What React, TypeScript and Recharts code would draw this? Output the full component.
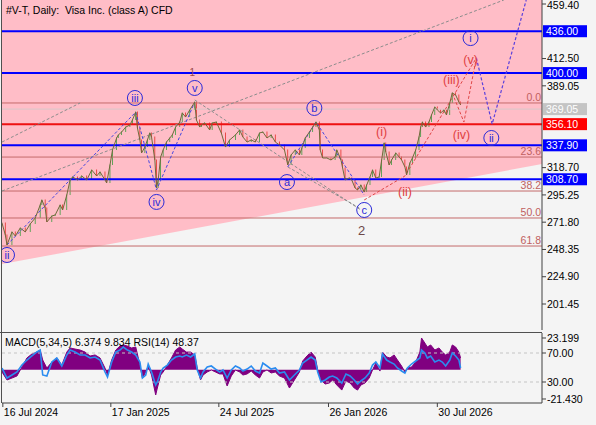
import React from 'react';
import { ComposedChart, Area, Line, Bar, Cell, Scatter, XAxis, YAxis, ReferenceLine } from 'recharts';

const FONT = '"Liberation Sans", Arial, sans-serif';

/* ─── Price samples (bar index, close) ─────────────────────────────────────── */
const priceBars = [0, 4, 6, 12, 16, 22, 28, 34, 40, 46, 48, 52, 54, 60, 64, 70, 73, 78, 82, 85, 91, 96, 102, 108, 114, 118, 124, 126, 130, 133, 138, 140, 144, 149, 154, 157, 161, 163, 166, 168, 172, 175, 178, 180, 184, 186, 188, 191, 194, 198, 202, 205, 209, 214, 217, 221, 226, 232, 234, 238, 240, 244, 250, 253, 258, 264, 269, 274, 281, 286, 290, 295, 300, 305, 310, 314, 319, 324, 329, 334, 340, 344, 348, 353, 358, 361, 365, 370, 374, 378, 382, 383, 386, 391, 396, 401, 403, 408, 410, 413, 418, 421, 425, 428, 432, 436, 439, 443, 446, 450, 454, 457, 460, 462, 466, 469, 474, 478, 481, 485, 487, 491, 494, 498, 502, 504, 506, 510, 514, 517, 521, 524, 528, 532, 535, 539, 542, 546, 550, 552];
const priceCloses = [271.1, 260.8, 252.2, 263.4, 259.9, 266.8, 263.4, 270.3, 275.4, 286.6, 290.9, 284.0, 272.0, 277.1, 278.0, 286.6, 282.3, 295.2, 308.1, 310.7, 308.1, 311.5, 308.1, 316.7, 311.5, 315.0, 308.1, 305.5, 321.0, 333.9, 344.2, 346.8, 349.3, 353.6, 355.4, 359.7, 366.5, 352.8, 342.5, 331.3, 336.4, 342.5, 348.5, 345.0, 325.3, 301.2, 308.1, 327.9, 333.9, 340.7, 344.2, 346.8, 353.6, 357.9, 365.7, 362.2, 368.3, 375.1, 359.7, 353.6, 355.4, 357.1, 351.1, 357.1, 357.9, 348.5, 336.4, 342.5, 346.8, 351.1, 345.0, 340.7, 342.5, 340.7, 348.5, 349.3, 344.2, 346.8, 340.7, 338.2, 333.9, 321.0, 329.6, 333.9, 329.6, 335.6, 344.2, 349.3, 353.6, 357.9, 351.1, 333.9, 327.0, 327.0, 325.3, 327.9, 333.9, 325.3, 318.4, 308.1, 309.8, 308.1, 301.2, 299.5, 303.8, 297.7, 303.8, 310.7, 316.7, 309.8, 310.7, 325.3, 339.9, 332.1, 321.0, 325.3, 331.3, 327.9, 325.3, 319.3, 312.4, 322.7, 327.0, 333.9, 345.0, 353.6, 357.9, 353.6, 357.9, 364.0, 370.8, 368.3, 365.7, 368.3, 364.0, 374.3, 382.9, 381.2, 375.1, 372.6];

/* ─── Levels ───────────────────────────────────────────────────────────────── */
// 435.95, 365.60 and 342.15 sit under the coloured level boxes
const priceTicks = [459.4, 412.5, 389.05, 318.7, 295.25, 271.8, 248.35, 224.9, 201.45];
const blueLevels = [436.0, 400.0, 337.9, 308.7];
const redLevel = 356.1;
const bidLevel = 369.05;
const fibLevels = [374.3, 327.8, 298.6, 275.4, 251.3];
const fibNames = ['0.0', '23.6', '38.2', '50.0', '61.8'];

/* ─── Trend zone + dashed guides ([bar, value]) ────────────────────────────── */
const zoneBars = [0, 650];
const zoneLower = [235.8, 321.8];
const zoneUpper = [462.84, 462.84];
const channelLong = [[0, 298.6], [604, 462.8]];
const channelShort = [[0, 340.7], [94, 374.3]];
const waveImpulse = [[6, 252.2], [161, 366.5], [186, 299.5], [232, 375.1]];
const waveGrayVc = [[232, 376.9], [432, 282.3]];
const waveGrayAc = [[344, 319.3], [430, 284.0]];
const waveAbc = [[344, 319.3], [378, 357.9], [436, 295.2]];
const waveRedMain = [[436, 290.9], [485, 311.5], [571, 413.0]];
const waveRedSub = [[542, 382.9], [556, 357.9], [571, 413.0]];
const waveForecast = [[571, 413.0], [590, 356.2], [631, 462.8]];

/* ─── Wave labels ──────────────────────────────────────────────────────────── */
const circleText = ['ii', 'iii', 'iv', 'v', 'a', 'b', 'c', 'i', 'ii'];
const circleBars = [6, 160, 186, 232, 343, 376, 436, 564, 589];
const circleVals = [243.6, 378.6, 289.2, 387.2, 306.3, 370.0, 282.3, 430.1, 344.2];
const redText = ['(i)', '(ii)', '(iii)', '(iv)', '(v)'];
const redBars = [457, 485, 541, 553, 564];
const redVals = [349.3, 297.7, 394.0, 346.8, 411.3];
const numText = ['1', '2'];
const numBars = [229, 433];
const numVals = [400.9, 264.2];

/* ─── MACD / RSI panel ─────────────────────────────────────────────────────── */
const macdBars = [0, 6, 12, 18, 24, 30, 36, 42, 46, 49, 54, 60, 66, 72, 78, 82, 88, 94, 100, 106, 112, 118, 124, 127, 132, 137, 142, 146, 151, 156, 161, 166, 169, 173, 176, 180, 185, 187, 191, 194, 199, 204, 209, 214, 217, 222, 227, 232, 235, 239, 242, 247, 252, 257, 262, 266, 271, 276, 281, 286, 290, 295, 300, 305, 310, 314, 319, 324, 329, 334, 340, 346, 352, 358, 362, 367, 372, 377, 380, 384, 389, 394, 398, 403, 409, 414, 419, 424, 428, 432, 437, 442, 446, 450, 455, 458, 463, 467, 472, 476, 481, 485, 488, 493, 498, 503, 505, 509, 512, 516, 521, 526, 530, 534, 539, 542, 546, 550, 552];
const histVals = [-1.7, -7.5, -6.1, -4.6, 2.0, 8.6, 11.5, 12.9, 14.4, 7.1, 1.2, 5.6, 8.6, 3.4, 12.9, 15.9, 15.1, 14.4, 12.9, 10.0, 10.8, 8.6, 1.2, -3.9, 7.1, 14.4, 17.3, 18.1, 17.3, 15.9, 16.6, 3.4, -6.1, -1.7, 2.7, -3.9, -18.5, -13.4, -3.9, -1.7, 3.4, 8.6, 14.4, 16.6, 15.1, 12.9, 12.9, 10.8, 1.2, -7.5, -3.9, -1.7, -0.2, -1.7, -3.1, -3.1, -11.9, -4.6, -0.2, -1.7, -3.9, -3.1, -1.0, -3.9, -6.1, -1.7, -0.2, -2.4, -1.7, -4.6, -6.1, -13.4, -7.5, -1.7, 6.4, 10.0, 12.9, 9.3, -0.2, -7.5, -10.5, -9.7, -7.5, -11.2, -14.9, -8.3, -9.7, -13.4, -14.9, -11.2, -9.7, -6.1, -0.2, 4.9, -1.0, 12.9, 9.3, 8.6, 10.8, 7.1, 2.7, -1.7, 1.2, 2.0, 5.6, 12.9, 23.2, 19.5, 16.6, 18.1, 14.4, 15.9, 12.9, 10.8, 12.9, 18.1, 16.6, 12.9, 8.6];
const rsiVals = [49.3, 35.5, 39.7, 43.8, 53.4, 60.3, 65.9, 71.4, 74.1, 39.7, 38.3, 57.6, 63.1, 52.1, 67.2, 74.1, 71.4, 67.2, 67.2, 63.1, 64.5, 60.3, 43.8, 36.9, 57.6, 71.4, 74.1, 78.3, 74.1, 71.4, 67.2, 57.6, 35.5, 39.7, 54.8, 43.8, 25.9, 30.0, 43.8, 49.3, 53.4, 60.3, 64.5, 65.9, 64.5, 67.2, 64.5, 68.6, 46.6, 35.5, 43.8, 50.7, 52.1, 47.9, 43.8, 46.6, 35.5, 46.6, 52.1, 49.3, 45.2, 47.9, 52.1, 45.2, 42.4, 56.2, 52.1, 47.9, 49.3, 42.4, 43.8, 32.8, 39.7, 46.6, 56.2, 60.3, 64.5, 60.3, 43.8, 30.0, 32.8, 36.9, 38.3, 35.5, 28.6, 41.0, 38.3, 32.8, 27.2, 31.4, 35.5, 42.4, 53.4, 57.6, 49.3, 68.6, 60.3, 57.6, 54.8, 49.3, 45.2, 42.4, 49.3, 54.8, 59.0, 63.1, 74.1, 70.0, 63.1, 65.9, 57.6, 60.3, 57.6, 52.1, 60.3, 70.0, 65.9, 60.3, 49.3];
const macdTicks = [23.199, -21.43];

const dateTicks = [1, 131, 261, 393, 524];
const dateLabels = ['16 Jul 2024', '17 Jan 2025', '24 Jul 2025', '26 Jan 2026', '30 Jul 2026'];

/* ─── Tables for the library ───────────────────────────────────────────────── */
const priceData = priceBars.map((x, i) => {
    const c = priceCloses[i];
    const o = i === 0 ? c : priceCloses[i - 1];
    return { x, c, body: [Math.min(o, c), Math.max(o, c) + 0.4], up: c >= o };
});
const zoneData = zoneBars.map((x, i) => ({ x, band: [zoneLower[i], zoneUpper[i]] }));
const pts = (p: number[][]) => p.map(([x, v]) => ({ x, v }));
const circleData = circleBars.map((x, i) => ({ x, v: circleVals[i], t: circleText[i] }));
const redData = redBars.map((x, i) => ({ x, v: redVals[i], t: redText[i] }));
const numData = numBars.map((x, i) => ({ x, v: numVals[i], t: numText[i] }));
const macdData = macdBars.map((x, i) => ({ x, hist: histVals[i], rsi: rsiVals[i] }));

/* ─── Custom marks ─────────────────────────────────────────────────────────── */
const CircleMark = (props: any) => {
    const { cx, cy, payload } = props;
    return (
        <g>
            <circle cx={cx} cy={cy} r={7.5} fill="none" stroke="#2a2ad8" strokeWidth={1} />
            <text x={cx} y={cy + 3.8} textAnchor="middle" fontSize={11} fill="#2a2ad8" fontFamily={FONT}>{payload.t}</text>
        </g>
    );
};
const RedMark = (props: any) => {
    const { cx, cy, payload } = props;
    return <text x={cx} y={cy + 4} textAnchor="middle" fontSize={12.5} fill="#e04040" fontFamily={FONT}>{payload.t}</text>;
};
const NumMark = (props: any) => {
    const { cx, cy, payload } = props;
    const big = payload.t === '2';
    return <text x={cx} y={cy + 4} textAnchor="middle" fontSize={big ? 13 : 10} fill={big ? '#6e4848' : '#9a4a4a'} fontFamily={FONT}>{payload.t}</text>;
};

const axisBox = (text: string, fill: string) => (props: any) => {
    const { viewBox } = props;
    const x = viewBox.x + viewBox.width + 1;
    const y = viewBox.y;
    return (
        <g>
            <rect x={x} y={y - 6} width={44} height={12} fill={fill} />
            <text x={x + 3} y={y + 4} fill="#fff" fontSize={10.5} fontFamily={FONT}>{text}</text>
        </g>
    );
};
const fibLabel = (text: string) => (props: any) => {
    const { viewBox } = props;
    return (
        <text x={viewBox.x + viewBox.width - 1} y={viewBox.y - 2} textAnchor="end" fontSize={10.5} fill="#c06060" fontFamily={FONT}>{text}</text>
    );
};
const rsiLabel = (text: string) => (props: any) => {
    const { viewBox } = props;
    const x = viewBox.x + viewBox.width;
    const y = viewBox.y;
    return (
        <g>
            <line x1={x} x2={x + 4} y1={y} y2={y} stroke="#404040" />
            <text x={x + 5} y={y + 4} fontSize={10.5} fill="#000" fontFamily={FONT}>{text}</text>
        </g>
    );
};
const DateTick = (props: any) => {
    const { x, y, payload } = props;
    return (
        <text x={x + 1} y={y} dy="0.71em" textAnchor="start" fontSize={10.5} fill="#000" fontFamily={FONT}>
            {dateLabels[dateTicks.indexOf(payload.value)]}
        </text>
    );
};
// keeps the top label (459.40) inside the picture
const PriceTick = (props: any) => {
    const { x, y, payload } = props;
    return (
        <text x={x} y={Math.max(y, 5)} dy="0.355em" textAnchor="start" fontSize={10.5} fill="#000" fontFamily={FONT}>
            {Number(payload.value).toFixed(2)}
        </text>
    );
};

const tickStyle = { fill: '#000', fontSize: 10.5, fontFamily: FONT };

export default function App() {
    return (
        <div style={{ position: 'absolute', left: 0, top: 0, width: 596, height: 425, background: '#f4f4f4', fontFamily: FONT, overflow: 'hidden' }}>
            <div style={{ position: 'absolute', left: 0, top: 0 }}>
                <ComposedChart width={596} height={331} data={priceData} margin={{ top: 0, right: 0, left: 2, bottom: 1 }}>
                    <XAxis dataKey="x" type="number" domain={[0, 650]} hide allowDataOverflow />
                    <YAxis
                        orientation="right"
                        type="number"
                        width={54}
                        domain={[179.1, 462.84]}
                        ticks={priceTicks}
                        interval={0}
                        allowDataOverflow
                        tick={PriceTick}
                        tickSize={4}
                        tickMargin={1}
                        axisLine={{ stroke: '#404040' }}
                        tickLine={{ stroke: '#404040' }}
                    />
                    {/* pink trend zone */}
                    <Area data={zoneData} dataKey="band" type="linear" stroke="none" fill="#ffbdc7" fillOpacity={1} isAnimationActive={false} />

                    {fibLevels.map((v, i) => (
                        <ReferenceLine key={`fib-${i}`} y={v} stroke="#c46a6a" strokeWidth={1} label={fibLabel(fibNames[i])} />
                    ))}
                    <ReferenceLine y={bidLevel} stroke="#d6c8ca" strokeWidth={1} label={axisBox('369.05', '#c4c4c4')} />
                    <ReferenceLine y={redLevel} stroke="#ee1111" strokeWidth={2} label={axisBox('356.10', '#ff0000')} />
                    {blueLevels.map((v) => (
                        <ReferenceLine key={`lvl-${v}`} y={v} stroke="#0000ff" strokeWidth={2} label={axisBox(v.toFixed(2), '#0000ff')} />
                    ))}

                    {/* dashed guides */}
                    <Line data={pts(channelLong)} dataKey="v" stroke="#8c8c8c" strokeDasharray="3 2" dot={false} isAnimationActive={false} />
                    <Line data={pts(channelShort)} dataKey="v" stroke="#8c8c8c" strokeDasharray="3 2" dot={false} isAnimationActive={false} />
                    <Line data={pts(waveGrayVc)} dataKey="v" stroke="#8c8c8c" strokeDasharray="3 2" dot={false} isAnimationActive={false} />
                    <Line data={pts(waveGrayAc)} dataKey="v" stroke="#8c8c8c" strokeDasharray="3 2" dot={false} isAnimationActive={false} />
                    <Line data={pts(waveImpulse)} dataKey="v" stroke="#4646e0" strokeDasharray="3 2" dot={false} isAnimationActive={false} />
                    <Line data={pts(waveAbc)} dataKey="v" stroke="#4646e0" strokeDasharray="3 2" dot={false} isAnimationActive={false} />
                    <Line data={pts(waveRedMain)} dataKey="v" stroke="#e04848" strokeDasharray="3 2" dot={false} isAnimationActive={false} />
                    <Line data={pts(waveRedSub)} dataKey="v" stroke="#e04848" strokeDasharray="3 2" dot={false} isAnimationActive={false} />
                    <Line data={pts(waveForecast)} dataKey="v" stroke="#5a40dc" strokeDasharray="3 2" strokeWidth={1.2} dot={false} isAnimationActive={false} />

                    {/* price */}
                    <Line dataKey="c" stroke="#6f6a3a" strokeWidth={1} dot={false} isAnimationActive={false} />
                    <Bar dataKey="body" barSize={3} isAnimationActive={false}>
                        {priceData.map((d, i) => (
                            <Cell key={`c-${i}`} fill={d.up ? '#2f9a36' : '#e2261e'} />
                        ))}
                    </Bar>

                    {/* wave labels */}
                    <Scatter data={circleData} dataKey="v" shape={CircleMark} isAnimationActive={false} />
                    <Scatter data={redData} dataKey="v" shape={RedMark} isAnimationActive={false} />
                    <Scatter data={numData} dataKey="v" shape={NumMark} isAnimationActive={false} />
                </ComposedChart>
            </div>

            <div style={{ position: 'absolute', left: 0, top: 333 }}>
                <ComposedChart width={596} height={92} data={macdData} margin={{ top: 0, right: 0, left: 2, bottom: 0 }}>
                    <XAxis
                        dataKey="x"
                        type="number"
                        domain={[0, 650]}
                        ticks={dateTicks}
                        interval={0}
                        height={22}
                        tickSize={4}
                        tickMargin={2}
                        allowDataOverflow
                        axisLine={{ stroke: '#404040' }}
                        tickLine={{ stroke: '#404040' }}
                        tick={DateTick}
                    />
                    <YAxis
                        yAxisId="m"
                        orientation="right"
                        type="number"
                        width={54}
                        domain={[-24.36, 26.85]}
                        ticks={macdTicks}
                        interval={0}
                        allowDataOverflow
                        tickFormatter={(v) => v.toFixed(3)}
                        tick={tickStyle}
                        tickSize={4}
                        tickMargin={1}
                        axisLine={{ stroke: '#404040' }}
                        tickLine={{ stroke: '#404040' }}
                    />
                    <YAxis yAxisId="r" hide type="number" domain={[1.03, 97.6]} allowDataOverflow />
                    <ReferenceLine yAxisId="r" y={70} stroke="#c4c4c4" strokeDasharray="3 3" label={rsiLabel('70.00')} />
                    <ReferenceLine yAxisId="r" y={30} stroke="#c4c4c4" strokeDasharray="3 3" label={rsiLabel('30.00')} />
                    <Area yAxisId="m" dataKey="hist" type="linear" baseValue={0} stroke="#800080" strokeWidth={1} fill="#800080" fillOpacity={1} isAnimationActive={false} />
                    <Line yAxisId="r" dataKey="rsi" type="linear" stroke="#2a8cf0" strokeWidth={1.6} dot={false} isAnimationActive={false} />
                </ComposedChart>
            </div>

            {/* panel frame */}
            <div style={{ position: 'absolute', left: 1, top: 0, width: 1, height: 403, background: '#505050' }} />
            <div style={{ position: 'absolute', left: 0, top: 332, width: 542, height: 1, background: '#505050' }} />

            <div style={{ position: 'absolute', left: 6, top: 4, fontSize: 10.5, color: '#000', whiteSpace: 'nowrap' }}>
                #V-T, Daily:&nbsp; Visa Inc. (class A) CFD
            </div>
            <div style={{ position: 'absolute', left: 5, top: 336, fontSize: 10.5, color: '#000', whiteSpace: 'nowrap' }}>
                MACD(5,34,5) 6.374 9.834 RSI(14) 48.37
            </div>
        </div>
    );
}
